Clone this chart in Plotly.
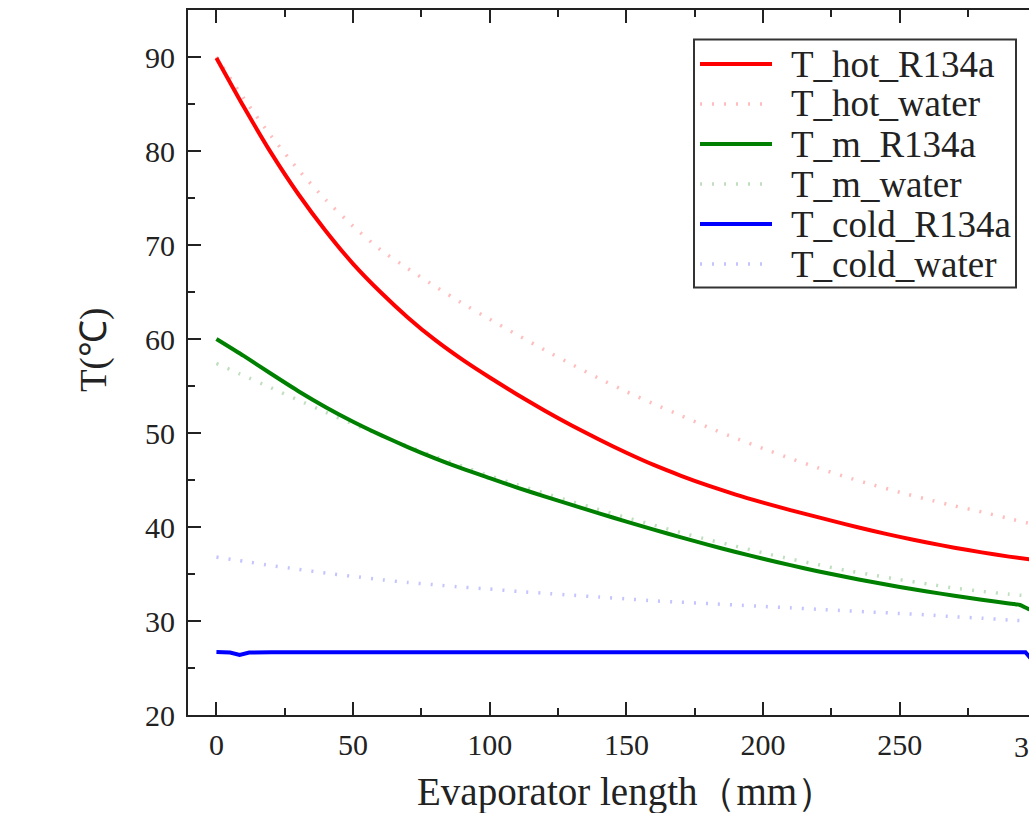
import plotly.graph_objects as go

# Evaporator length positions (mm)
x_len = [0, 10, 20, 30, 40, 50, 60, 70, 80, 90, 100, 110, 120, 130, 140, 150,
         160, 170, 180, 190, 200, 210, 220, 230, 240, 250, 260, 270, 280, 290, 300]

# Temperatures (°C)
t_hot_r134a = [89.9, 84.7, 79.8, 75.4, 71.5, 68.0, 65.0, 62.3, 59.9, 57.8, 55.9,
               54.1, 52.4, 50.8, 49.3, 47.9, 46.6, 45.45, 44.4, 43.45, 42.6, 41.8,
               41.05, 40.3, 39.6, 38.95, 38.35, 37.8, 37.3, 36.85, 36.45]
t_hot_water = [90.0, 85.6, 81.6, 78.0, 74.8, 72.0, 69.5, 67.5, 65.6, 63.8, 62.1,
               60.45, 58.85, 57.3, 55.8, 54.4, 53.1, 51.85, 50.6, 49.45, 48.35, 47.3,
               46.3, 45.35, 44.5, 43.7, 42.95, 42.25, 41.6, 40.9, 40.2]
t_m_water = [57.4, 56.1, 54.8, 53.5, 52.2, 50.95, 49.75, 48.6, 47.5, 46.45, 45.45,
             44.5, 43.6, 42.7, 41.85, 41.0, 40.2, 39.4, 38.65, 37.95, 37.25, 36.6,
             36.0, 35.4, 34.9, 34.4, 33.95, 33.5, 33.15, 32.85, 32.6]
t_cold_water = [36.8, 36.35, 35.9, 35.5, 35.1, 34.75, 34.4, 34.1, 33.85, 33.6, 33.4,
                33.15, 32.95, 32.75, 32.55, 32.35, 32.15, 32.0, 31.85, 31.7, 31.55, 31.4,
                31.25, 31.1, 30.95, 30.8, 30.65, 30.45, 30.3, 30.1, 29.95]

x_m = [0, 10, 20, 30, 40, 50, 60, 70, 80, 90, 100, 110, 120, 130, 140, 150, 160,
       170, 180, 190, 200, 210, 220, 230, 240, 250, 260, 270, 280, 290, 292, 294,
       297, 300]
t_m_r134a = [60.0, 58.2, 56.3, 54.45, 52.75, 51.2, 49.8, 48.5, 47.3, 46.2, 45.2,
             44.2, 43.25, 42.35, 41.45, 40.57, 39.72, 38.9, 38.1, 37.34, 36.62, 35.94,
             35.3, 34.7, 34.14, 33.62, 33.14, 32.69, 32.27, 31.87, 31.8, 31.7, 31.3, 31.0]

x_cold = [0, 5, 8.5, 12, 20, 50, 100, 150, 200, 250, 296, 298, 300]
t_cold_r134a = [26.7, 26.65, 26.4, 26.65, 26.67, 26.67, 26.67, 26.67, 26.67,
                26.67, 26.67, 26.0, 25.6]

series = [
    ("T_hot_R134a", x_len, t_hot_r134a, "#ff0000", 4, "solid", "spline"),
    ("T_hot_water", x_len, t_hot_water, "#ffbdbd", 3.5, "2px,10px", "spline"),
    ("T_m_R134a", x_m, t_m_r134a, "#008000", 4, "solid", "spline"),
    ("T_m_water", x_len, t_m_water, "#bfdfbf", 3.5, "2px,10px", "spline"),
    ("T_cold_R134a", x_cold, t_cold_r134a, "#0000ff", 4, "solid", "linear"),
    ("T_cold_water", x_len, t_cold_water, "#c4c4ff", 3.5, "2px,10px", "spline"),
]

# Plot-area geometry in pixels
W, H = 1029, 813
L, R, T, B = 188, 1029, 10, 715
PW, PH = R - L, B - T


def px_x(p):
    return (p - L) / PW


def px_y(p):
    return (B - p) / PH


FONT = "Liberation Serif"
INK = "#222222"

fig = go.Figure()
# dotted series first so the solid lines sit on top
order = [1, 3, 5, 0, 2, 4]
for i in order:
    name, xs, ys, color, width, dash, shape = series[i]
    fig.add_trace(go.Scatter(
        x=xs, y=ys, mode="lines", name=name,
        line=dict(color=color, width=width, dash=dash, shape=shape, smoothing=0.6),
        showlegend=False,
    ))

axis_common = dict(
    showline=True, linewidth=2, linecolor=INK,
    ticks="inside", ticklen=13, tickwidth=2, tickcolor=INK,
    showgrid=False, zeroline=False,
    tickfont=dict(family=FONT, size=30, color=INK),
)

fig.update_xaxes(
    range=[-10.4, 297.3], tickvals=[0, 50, 100, 150, 200, 250, 300],
    mirror="ticks", ticklabelstandoff=2,
    minor=dict(ticks="inside", ticklen=7, tickwidth=2, tickcolor=INK, dtick=25, tick0=0),
    **axis_common,
)
fig.update_yaxes(
    range=[20, 95], tickvals=[20, 30, 40, 50, 60, 70, 80, 90],
    mirror=False, ticklabelstandoff=5,
    minor=dict(ticks="inside", ticklen=7, tickwidth=2, tickcolor=INK, dtick=5, tick0=0),
    **axis_common,
)

shapes = []
annotations = []

# legend box
shapes.append(dict(type="rect", xref="paper", yref="paper",
                   x0=px_x(694), x1=px_x(1016), y0=px_y(287.5), y1=px_y(39.5),
                   line=dict(color="#333333", width=2), fillcolor="white", layer="above"))
row_y = [64, 104, 144, 184, 224, 264]
for (name, xs, ys, color, width, dash, shape), ry in zip(series, row_y):
    shapes.append(dict(type="line", xref="paper", yref="paper",
                       x0=px_x(700), x1=px_x(772), y0=px_y(ry), y1=px_y(ry),
                       line=dict(color=color, width=width, dash=dash),
                       layer="above"))
    annotations.append(dict(text=name, xref="paper", yref="paper",
                            x=px_x(789), y=px_y(ry), xanchor="left", yanchor="middle",
                            showarrow=False,
                            font=dict(family=FONT, size=37, color=INK)))

# axis titles
annotations.append(dict(text="Evaporator length（mm）", xref="paper", yref="paper",
                        x=px_x(626), y=px_y(792), xanchor="center", yanchor="middle",
                        showarrow=False, font=dict(family=FONT, size=39, color=INK)))
annotations.append(dict(text="T(℃)", xref="paper", yref="paper",
                        x=px_x(94), y=px_y(350), xanchor="center", yanchor="middle",
                        textangle=-90, showarrow=False,
                        font=dict(family=FONT, size=37, color=INK)))
# last tick label sits past the right edge of the visible frame
annotations.append(dict(text="300", xref="paper", yref="paper",
                        x=px_x(1036.7), y=px_y(746), xanchor="center", yanchor="middle",
                        showarrow=False, font=dict(family=FONT, size=30, color=INK)))

fig.update_layout(
    width=W, height=H,
    margin=dict(l=L, r=W - R, t=T, b=H - B, pad=0),
    paper_bgcolor="white", plot_bgcolor="white",
    shapes=shapes, annotations=annotations,
    showlegend=False,
)

fig.write_html("out.html")
